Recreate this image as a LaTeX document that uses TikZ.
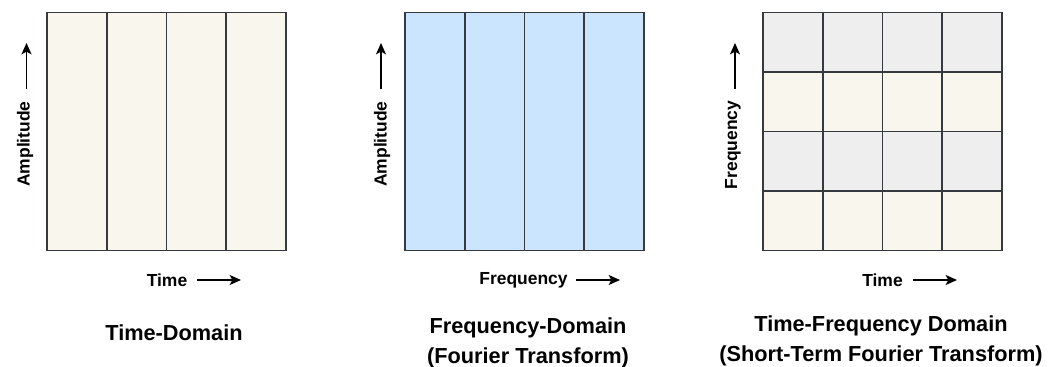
\documentclass[tikz,border=0pt]{standalone}
\usepackage{fontspec}
\setmainfont{Liberation Sans}
\usepackage{xcolor}
\usetikzlibrary{arrows.meta}

\definecolor{creamfill}{HTML}{F9F7ED}
\definecolor{bluefill}{HTML}{CCE5FF}
\definecolor{grayfill}{HTML}{EEEEEE}
\definecolor{gridline}{HTML}{36393D}

\begin{document}
\begin{tikzpicture}[
    x=0.75pt, y=-0.75pt,
    cell/.style={draw=gridline, line width=1.2pt},
    axislabel/.style={font=\fontsize{13.1pt}{15pt}\selectfont\bfseries, inner sep=0pt},
    title/.style={font=\fontsize{16.3pt}{22pt}\selectfont\bfseries, align=center, inner sep=0pt},
    axisarrow/.style={line width=1.1pt, -{Stealth[length=8.5pt, width=7.5pt, inset=2pt]}},
]
\useasboundingbox (0,0) rectangle (1064,367);

% Time-Domain
\foreach \i in {0,...,3}
    \draw[cell, fill=creamfill] ({47+\i*59.75},12.5) rectangle ++(59.75,238);

% Frequency-Domain
\foreach \i in {0,...,3}
    \draw[cell, fill=bluefill] ({405+\i*59.75},12.5) rectangle ++(59.75,238);

% Time-Frequency Domain
\foreach \i in {0,...,3}
    \foreach \j/\c in {0/grayfill, 1/creamfill, 2/grayfill, 3/creamfill}
        \draw[cell, fill=\c] ({763+\i*59.75},{12.5+\j*59.5}) rectangle ++(59.75,59.5);

% Achsenbeschriftung
\node[axislabel, rotate=90] (amp1) at (25,144) {Amplitude};
\node[axislabel, rotate=90] (amp2) at (382,144) {Amplitude};
\node[axislabel, rotate=90] (freq3) at (733,145) {Frequency};
\node[axislabel] (time1) at (167,280) {Time};
\node[axislabel] (freq2) at (523.5,280) {Frequency};
\node[axislabel] (time3) at (882.5,280) {Time};

% Pfeile
\coordinate (amp1a) at (26.5,89);  \coordinate (amp1b) at (26.5,43);
\coordinate (amp2a) at (381,89);   \coordinate (amp2b) at (381,43);
\coordinate (freq3a) at (735,89);  \coordinate (freq3b) at (735,43);
\coordinate (time1a) at (197,280); \coordinate (time1b) at (241,280);
\coordinate (freq2a) at (576,280); \coordinate (freq2b) at (620,280);
\coordinate (time3a) at (913,280); \coordinate (time3b) at (957,280);
\draw[axisarrow] (amp1a) -- (amp1b);
\draw[axisarrow] (amp2a) -- (amp2b);
\draw[axisarrow] (freq3a) -- (freq3b);
\draw[axisarrow] (time1a) -- (time1b);
\draw[axisarrow] (freq2a) -- (freq2b);
\draw[axisarrow] (time3a) -- (time3b);

% Titel
\node[title] (title1) at (174,333) {Time-Domain};
\node[title] (title2) at (528,343) {Frequency-Domain\\(Fourier Transform)};
\node[title] (title3) at (881,341) {Time-Frequency Domain\\(Short-Term Fourier Transform)};

\end{tikzpicture}
\end{document}
